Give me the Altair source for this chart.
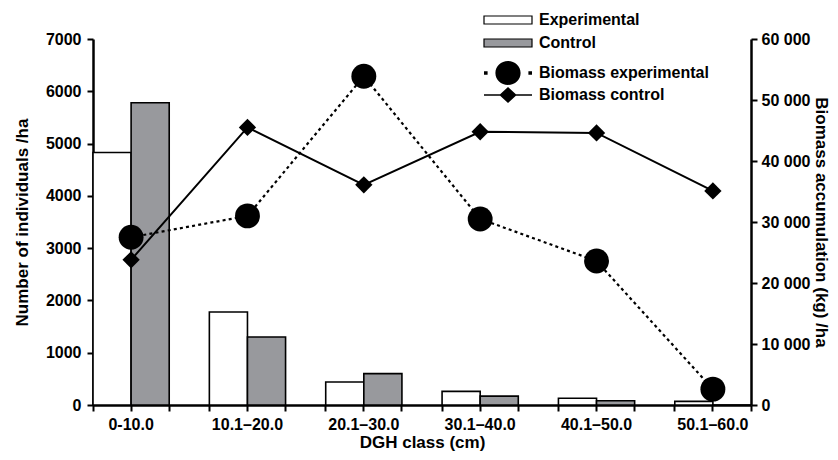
import altair as alt
import pandas as pd

# ---- data ----
classes = ["0-10.0", "10.1–20.0", "20.1–30.0", "30.1–40.0", "40.1–50.0", "50.1–60.0"]
groups = ["Experimental", "Control"]
individuals_exp = [4830, 1780, 440, 260, 130, 70]
individuals_ctrl = [5780, 1300, 600, 170, 80, 0]
series = ["Biomass experimental", "Biomass control"]
biomass_exp = [27500, 31000, 53900, 30500, 23600, 2600]
biomass_ctrl = [23800, 45500, 36100, 44800, 44600, 35100]
left_ticks = [0, 1000, 2000, 3000, 4000, 5000, 6000, 7000]
right_ticks = [0, 10000, 20000, 30000, 40000, 50000, 60000]

bars_df = pd.DataFrame({
    "cls": classes * 2,
    "grp": [groups[0]] * len(classes) + [groups[1]] * len(classes),
    "n": individuals_exp + individuals_ctrl,
})
bio_df = pd.DataFrame({
    "cls": classes * 2,
    "series": [series[0]] * len(classes) + [series[1]] * len(classes),
    "b": biomass_exp + biomass_ctrl,
})

FONT = "Liberation Sans"
W, H = 658, 366

ax = dict(domainColor="black", domainWidth=2.5, tickColor="black", tickWidth=2,
          tickSize=6, labelFont=FONT, labelFontSize=16, labelFontWeight="bold",
          labelColor="black", titleFont=FONT, titleFontSize=17,
          titleFontWeight="bold", titleColor="black", grid=False)

xscale = alt.Scale(domain=classes, paddingInner=0.345, paddingOuter=0)

# legend symbol paths
rect_path = "M-4,-0.67 L4,-0.67 L4,0.67 L-4,0.67 Z"
exp_path = ("M-4,-0.3 L-3.4,-0.3 L-3.4,0.3 L-4,0.3 Z "
            "M3.4,-0.3 L4,-0.3 L4,0.3 L3.4,0.3 Z "
            "M-2.1,0 A2.1,2.0 0 1,0 2.1,0 A2.1,2.0 0 1,0 -2.1,0 Z")
ctrl_path = ("M-4,-0.12 L4,-0.12 L4,0.12 L-4,0.12 Z "
             "M-1.45,0 L0,-1.35 L1.45,0 L0,1.35 Z")

legend_text = dict(labelFont=FONT, labelFontSize=16, labelFontWeight="bold",
                   labelColor="black", labelOffset=23, labelLimit=400, padding=0,
                   title=None, orient="none", legendX=407)

bars = alt.Chart(bars_df).mark_bar(stroke="black", strokeWidth=1.6).encode(
    x=alt.X("cls:N", scale=xscale, sort=classes,
            axis=alt.Axis(title="DGH class (cm)", labelAngle=0, bandPosition=0.5,
                          orient="bottom", labelPadding=5, titlePadding=2, **ax)),
    xOffset=alt.XOffset("grp:N", sort=groups,
                        scale=alt.Scale(domain=groups, paddingInner=0, paddingOuter=0)),
    y=alt.Y("n:Q", scale=alt.Scale(domain=[0, 7000], nice=False),
            axis=alt.Axis(title="Number of individuals /ha", values=left_ticks, format="d",
                          labelPadding=6, titlePadding=14, **ax)),
    fill=alt.Fill("grp:N", scale=alt.Scale(domain=groups, range=["white", "#98999d"]),
                  legend=alt.Legend(legendY=-27, symbolType=rect_path, symbolSize=144,
                                    symbolStrokeColor="black", symbolStrokeWidth=1.2,
                                    rowPadding=7, **legend_text)),
)

tick_axis = dict(labels=False, domain=False, title=None, orient="bottom",
                 tickColor="black", tickWidth=2, tickSize=6, grid=False)
tick_start = alt.Chart(bars_df).transform_filter("false").mark_point().encode(
    x=alt.X("cls:N", scale=xscale, sort=classes,
            axis=alt.Axis(bandPosition=0, **tick_axis)),
)
tick_end = alt.Chart(bars_df).transform_filter("false").mark_point().encode(
    x=alt.X("cls:N", scale=xscale, sort=classes,
            axis=alt.Axis(bandPosition=1, **tick_axis)),
)

yright = alt.Y("b:Q", scale=alt.Scale(domain=[0, 60000], nice=False),
               axis=alt.Axis(title="Biomass accumulation (kg) /ha", orient="right",
                             values=right_ticks, labelPadding=4, titlePadding=2,
                             labelExpr="datum.value == 0 ? '0' : replace(format(datum.value, ','), ',', ' ')",
                             **ax))
xnone = alt.X("cls:N", scale=xscale, sort=classes, axis=None)

exp_base = alt.Chart(bio_df).transform_filter(alt.datum.series == series[0])
ctl_base = alt.Chart(bio_df).transform_filter(alt.datum.series == series[1])

line_exp = exp_base.mark_line(color="black", strokeWidth=2.2, strokeDash=[3, 3.2]).encode(x=xnone, y=yright)
pt_exp = exp_base.mark_point(shape="circle", filled=True, color="black", opacity=1, size=620).encode(x=xnone, y=yright)
line_ctl = ctl_base.mark_line(color="black", strokeWidth=2).encode(x=xnone, y=yright)
pt_ctl = ctl_base.mark_point(shape="diamond", filled=True, color="black", opacity=1, size=300).encode(x=xnone, y=yright)

legend_lines = alt.Chart(bio_df).transform_filter("false").mark_point(
    filled=True, color="black", opacity=1).encode(
    shape=alt.Shape("series:N", scale=alt.Scale(domain=series, range=[exp_path, ctrl_path]),
                    legend=alt.Legend(legendY=26, symbolSize=144, symbolFillColor="black",
                                      symbolStrokeColor="black", symbolStrokeWidth=1,
                                      rowPadding=-5, **legend_text)),
)

right = alt.layer(line_exp, line_ctl, pt_exp, pt_ctl, legend_lines)

chart = alt.layer(bars, tick_start, tick_end, right).resolve_scale(
    y="independent"
).resolve_axis(x="independent").properties(
    width=W, height=H,
    autosize=alt.AutoSizeParams(type="none"),
    padding={"left": 85, "top": 31, "right": 79, "bottom": 47},
    background="white",
).configure_view(stroke=None)

chart.save("out.html", embed_options={"renderer": "svg", "actions": False})
